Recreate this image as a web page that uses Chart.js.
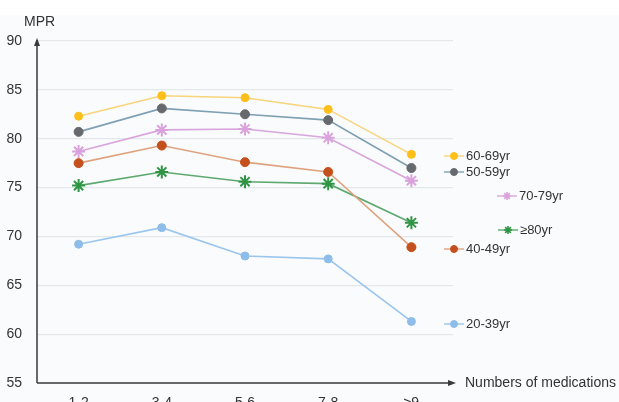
<!DOCTYPE html>
<html>
<head>
<meta charset="utf-8">
<script src="https://cdn.jsdelivr.net/npm/chart.js@4"></script>
<style>
  html, body { margin:0; padding:0; background:#fff; overflow:hidden; }
  body { width:619px; height:402px; }
  #wrap { width:619px; height:420px; }
</style>
</head>
<body>
<div id="wrap"><canvas id="mprChart" width="619" height="420"></canvas></div>
<script>
// categories and tick labels
const medGroups = ['1-2', '3-4', '5-6', '7-8', '≥9'];
const mprTicks = [55, 60, 65, 70, 75, 80, 85, 90];

// MPR per age group
const age60_69 = [82.3, 84.4, 84.2, 83.0, 78.4];
const age50_59 = [80.7, 83.1, 82.5, 81.9, 77.0];
const age70_79 = [78.7, 80.9, 81.0, 80.1, 75.7];
const age40_49 = [77.5, 79.3, 77.6, 76.6, 68.9];
const age80up  = [75.2, 76.6, 75.6, 75.4, 71.4];
const age20_39 = [69.2, 70.9, 68.0, 67.7, 61.3];

const seriesNames = ['60-69yr', '50-59yr', '70-79yr', '40-49yr', '≥80yr', '20-39yr'];

// where the floating labels sit (px), same order as the series
const labelSpots = [
    {x:454, y:156}, {x:454, y:172}, {x:507, y:196},
    {x:454, y:249}, {x:508, y:230}, {x:454, y:324}
];

function ds(label, data, line, point, style, r) {
    return {
        label: label,
        data: data,
        borderColor: line,
        borderWidth: 1.6,
        backgroundColor: point,
        pointBackgroundColor: point,
        pointBorderColor: point,
        pointBorderWidth: style == 'star' ? 2 : 1,
        pointStyle: style,
        pointRadius: r,
        tension: 0
    };
}

const datasets = [
    ds(seriesNames[0], age60_69, '#f8d47c', '#ffbf1a', 'circle', 4),
    ds(seriesNames[1], age50_59, '#7f9fb2', '#666a6e', 'circle', 4.5),
    ds(seriesNames[2], age70_79, '#d8a6dc', '#d9a2dd', 'star', 6.5),
    ds(seriesNames[3], age40_49, '#dea37e', '#c4501e', 'circle', 4.5),
    ds(seriesNames[4], age80up,  '#5ea96f', '#2f9444', 'star', 6.5),
    ds(seriesNames[5], age20_39, '#9ac6ee', '#8dbde8', 'circle', 4)
];

// background, axes with arrows, axis titles, floating labels
const decor = {
    id: 'decor',
    beforeDraw(chart) {
        const c = chart.ctx;
        c.save();
        c.fillStyle = '#fafbfc';
        c.fillRect(0, 15, chart.width, chart.height);
        c.restore();
    },
    afterDraw(chart) {
        const c = chart.ctx;
        const a = chart.chartArea;
        c.save();
        c.strokeStyle = '#3a3a3a';
        c.fillStyle = '#3a3a3a';
        c.lineWidth = 1.5;
        c.beginPath();
        c.moveTo(a.left, a.bottom);
        c.lineTo(a.left, a.top - 1);
        c.moveTo(a.left, a.bottom);
        c.lineTo(a.right, a.bottom);
        c.stroke();
        c.beginPath();
        c.moveTo(a.left, a.top - 3);
        c.lineTo(a.left - 3, a.top + 5);
        c.lineTo(a.left + 3, a.top + 5);
        c.closePath();
        c.fill();
        c.beginPath();
        c.moveTo(a.right + 3, a.bottom);
        c.lineTo(a.right - 5, a.bottom - 3);
        c.lineTo(a.right - 5, a.bottom + 3);
        c.closePath();
        c.fill();

        c.fillStyle = '#333';
        c.font = '14px "Liberation Sans", Arial, sans-serif';
        c.textBaseline = 'middle';
        c.textAlign = 'left';
        c.fillText('MPR', 24, 22);
        c.fillText('Numbers of medications', 465, a.bottom);

        c.font = '13px "Liberation Sans", Arial, sans-serif';
        chart.data.datasets.forEach((d, i) => {
            const p = labelSpots[i];
            c.strokeStyle = d.borderColor;
            c.lineWidth = 1.4;
            c.beginPath();
            c.moveTo(p.x - 10, p.y);
            c.lineTo(p.x + 10, p.y);
            c.stroke();
            c.lineWidth = d.pointStyle == 'star' ? 1.6 : 1;
            c.fillStyle = d.pointBackgroundColor;
            c.strokeStyle = d.pointBorderColor;
            Chart.helpers.drawPoint(c, {
                pointStyle: d.pointStyle,
                radius: d.pointStyle == 'star' ? 4 : 3.5,
                rotation: 0,
                borderWidth: 1
            }, p.x, p.y);
            c.fillStyle = '#333';
            c.fillText(d.label, p.x + 12, p.y);
        });
        c.restore();
    }
};

new Chart(
    document.getElementById('mprChart'),
    {
        type: 'line',
        data: {
            labels: medGroups,
            datasets: datasets
        },
        options: {
            responsive: false,
            animation: false,
            layout: {
                padding: { top: 41, right: 166, left: 0, bottom: 0 }
            },
            plugins: {
                legend: { display: false },
                tooltip: { enabled: false }
            },
            scales: {
                x: {
                    offset: true,
                    grid: { display: false, drawTicks: false },
                    border: { display: false },
                    ticks: {
                        padding: 12,
                        color: '#333',
                        font: { size: 14, family: '"Liberation Sans", Arial, sans-serif' }
                    },
                    afterFit: s => { s.height = 37; }
                },
                y: {
                    min: 55,
                    max: 90,
                    afterBuildTicks: s => { s.ticks = mprTicks.map(v => ({ value: v })); },
                    grid: {
                        color: ctx => ctx.tick.value == 55 ? 'rgba(0,0,0,0)' : '#e2e8ec',
                        drawTicks: false,
                        lineWidth: 1.2
                    },
                    border: { display: false },
                    ticks: {
                        padding: 15,
                        color: '#333',
                        font: { size: 14, family: '"Liberation Sans", Arial, sans-serif' }
                    },
                    afterFit: s => { s.width = 37; }
                }
            }
        },
        plugins: [decor]
    }
);
</script>
</body>
</html>
